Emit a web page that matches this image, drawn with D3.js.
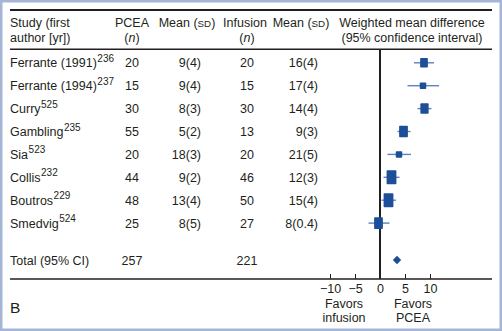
<!DOCTYPE html>
<html>
<head>
<meta charset="utf-8">
<script src="https://cdn.jsdelivr.net/npm/d3@7"></script>
<style>
html,body{margin:0;padding:0;background:#fff;}
svg{display:block;}
text{font-family:"Liberation Sans",Arial,Helvetica,sans-serif;fill:#231f20;}
</style>
</head>
<body>
<script>
const studies = ["Ferrante (1991)", "Ferrante (1994)", "Curry", "Gambling", "Sia", "Collis", "Boutros", "Smedvig"];
const refs = ["236", "237", "525", "235", "523", "232", "229", "524"];
const pceaN = [20, 15, 30, 55, 20, 44, 48, 25];
const pceaMean = [9, 9, 8, 5, 18, 9, 13, 8];
const pceaSD = [4, 4, 3, 2, 3, 2, 4, 5];
const infN = [20, 15, 30, 13, 20, 46, 50, 27];
const infMean = [16, 17, 14, 9, 21, 12, 15, 8];
const infSD = [4, 4, 4, 3, 5, 3, 4, 0.4];
const wmd = [8.8, 8.6, 8.9, 4.7, 3.8, 2.3, 1.7, -0.3];
const ciLow = [6.8, 5.5, 7.5, 3.5, 1.5, 0.7, 0.3, -2.3];
const ciHigh = [10.8, 11.8, 10.3, 6.1, 6.2, 3.9, 3.2, 1.9];
const weights = [9, 4, 11, 13, 4, 17, 17, 13];
const totalLabel = "Total (95% CI)";
const totalPceaN = 257;
const totalInfN = 221;
const totalWmd = 3.4;
const axisTicks = [-10, -5, 0, 5, 10];

const W = 502, H = 331;
const svg = d3.select("body").append("svg").attr("width", W).attr("height", H);

// frame
svg.append("rect").attr("x", 1.25).attr("y", 1.25).attr("width", W - 2.5).attr("height", H - 2.5)
  .attr("fill", "#fff").attr("stroke", "#a4b5d6").attr("stroke-width", 2.5);

const x = d3.scaleLinear().domain([-10, 10]).range([330, 430]);
const y = d3.scaleLinear().domain([0, 1]).range([62.8, 85.7]);
const totalY = 260;

const wScale = d3.scaleLinear().domain([4, 17]).range([6.5, 9.8]);
const hScale = d3.scaleLinear().domain([4, 17]).range([6.5, 14]);

const fs = 12.5;
const col = { study: 10, pceaN: 132, pceaMean: 201, infN: 247, infMean: 318 };

// lines
svg.append("line").attr("x1", 10).attr("x2", 492).attr("y1", 10).attr("y2", 10).attr("stroke", "#231f20").attr("stroke-width", 2);
svg.append("line").attr("x1", 10).attr("x2", 492).attr("y1", 49.3).attr("y2", 49.3).attr("stroke", "#231f20").attr("stroke-width", 1.5);
svg.append("line").attr("x1", 10).attr("x2", 492).attr("y1", 279).attr("y2", 279).attr("stroke", "#231f20").attr("stroke-width", 1.5);
svg.append("line").attr("x1", x(0)).attr("x2", x(0)).attr("y1", 49.3).attr("y2", 279).attr("stroke", "#231f20").attr("stroke-width", 2);

// header
const hdr = svg.append("g").attr("font-size", fs);
function meanSdHeader(cx) {
  const t = hdr.append("text").attr("x", cx).attr("y", 26.5).attr("text-anchor", "middle");
  t.append("tspan").text("Mean (");
  t.append("tspan").attr("font-size", fs * 0.78).text("SD");
  t.append("tspan").text(")");
}
hdr.append("text").attr("x", col.study).attr("y", 26.5).text("Study (first");
hdr.append("text").attr("x", col.study).attr("y", 41.5).text("author [yr])");
hdr.append("text").attr("x", 132).attr("y", 26.5).attr("text-anchor", "middle").text("PCEA");
hdr.append("text").attr("x", 132).attr("y", 41.5).attr("text-anchor", "middle").call(t => {
  t.append("tspan").text("(");
  t.append("tspan").attr("font-style", "italic").text("n");
  t.append("tspan").text(")");
});
meanSdHeader(187);
hdr.append("text").attr("x", 245).attr("y", 26.5).attr("text-anchor", "middle").text("Infusion");
hdr.append("text").attr("x", 247).attr("y", 41.5).attr("text-anchor", "middle").call(t => {
  t.append("tspan").text("(");
  t.append("tspan").attr("font-style", "italic").text("n");
  t.append("tspan").text(")");
});
meanSdHeader(301);
hdr.append("text").attr("x", 412).attr("y", 26.5).attr("text-anchor", "middle").text("Weighted mean difference");
hdr.append("text").attr("x", 412).attr("y", 41.5).attr("text-anchor", "middle").text("(95% confidence interval)");

// rows
const rows = svg.append("g").attr("font-size", fs);
studies.forEach((s, i) => {
  const yb = y(i) + 4.5;
  const t = rows.append("text").attr("x", col.study).attr("y", yb);
  t.append("tspan").text(s);
  t.append("tspan").attr("font-size", 10).attr("dx", 0.5).attr("dy", -5.5).text(refs[i]);
  rows.append("text").attr("x", col.pceaN).attr("y", yb).attr("text-anchor", "middle").text(pceaN[i]);
  rows.append("text").attr("x", col.pceaMean).attr("y", yb).attr("text-anchor", "end").text(`${pceaMean[i]}(${pceaSD[i]})`);
  rows.append("text").attr("x", col.infN).attr("y", yb).attr("text-anchor", "middle").text(infN[i]);
  rows.append("text").attr("x", col.infMean).attr("y", yb).attr("text-anchor", "end").text(`${infMean[i]}(${infSD[i]})`);
});
rows.append("text").attr("x", col.study).attr("y", totalY + 4.5).text(totalLabel);
rows.append("text").attr("x", col.pceaN).attr("y", totalY + 4.5).attr("text-anchor", "middle").text(totalPceaN);
rows.append("text").attr("x", col.infN).attr("y", totalY + 4.5).attr("text-anchor", "middle").text(totalInfN);

// forest marks
const marks = svg.append("g");
marks.selectAll("line.ci").data(studies).join("line").attr("class", "ci")
  .attr("x1", (d, i) => x(ciLow[i])).attr("x2", (d, i) => x(ciHigh[i]))
  .attr("y1", (d, i) => y(i)).attr("y2", (d, i) => y(i))
  .attr("stroke", "#5f83bd").attr("stroke-width", 1.4);
marks.selectAll("rect.box").data(studies).join("rect").attr("class", "box")
  .attr("x", (d, i) => x(wmd[i]) - wScale(weights[i]) / 2)
  .attr("y", (d, i) => y(i) - hScale(weights[i]) / 2)
  .attr("width", (d, i) => wScale(weights[i]))
  .attr("height", (d, i) => hScale(weights[i]))
  .attr("rx", 0.8)
  .attr("fill", "#1d4e98");
const dx = 4.2, dy = 4.2, cx = x(totalWmd);
marks.append("path")
  .attr("d", `M${cx - dx},${totalY} L${cx},${totalY - dy} L${cx + dx},${totalY} L${cx},${totalY + dy} Z`)
  .attr("fill", "#1d4e98");

// axis
const axis = d3.axisBottom(x).tickValues(axisTicks).tickSizeInner(-5).tickSizeOuter(0).tickPadding(5)
  .tickFormat(d3.format("d"));
const ag = svg.append("g").attr("transform", "translate(0,279)").call(axis);
ag.select(".domain").remove();
ag.selectAll(".tick line").attr("stroke", "#231f20").attr("stroke-width", 1);
ag.selectAll(".tick text").attr("font-size", fs).attr("fill", "#231f20")
  .attr("font-family", "'Liberation Sans',Arial,Helvetica,sans-serif");

const fav = svg.append("g").attr("font-size", fs).attr("text-anchor", "middle");
fav.append("text").attr("x", 344).attr("y", 307.5).text("Favors");
fav.append("text").attr("x", 344).attr("y", 321.5).text("infusion");
fav.append("text").attr("x", 413).attr("y", 307.5).text("Favors");
fav.append("text").attr("x", 413).attr("y", 321.5).text("PCEA");

svg.append("text").attr("x", 10).attr("y", 313).attr("font-size", 15.5).text("B");
</script>
</body>
</html>
